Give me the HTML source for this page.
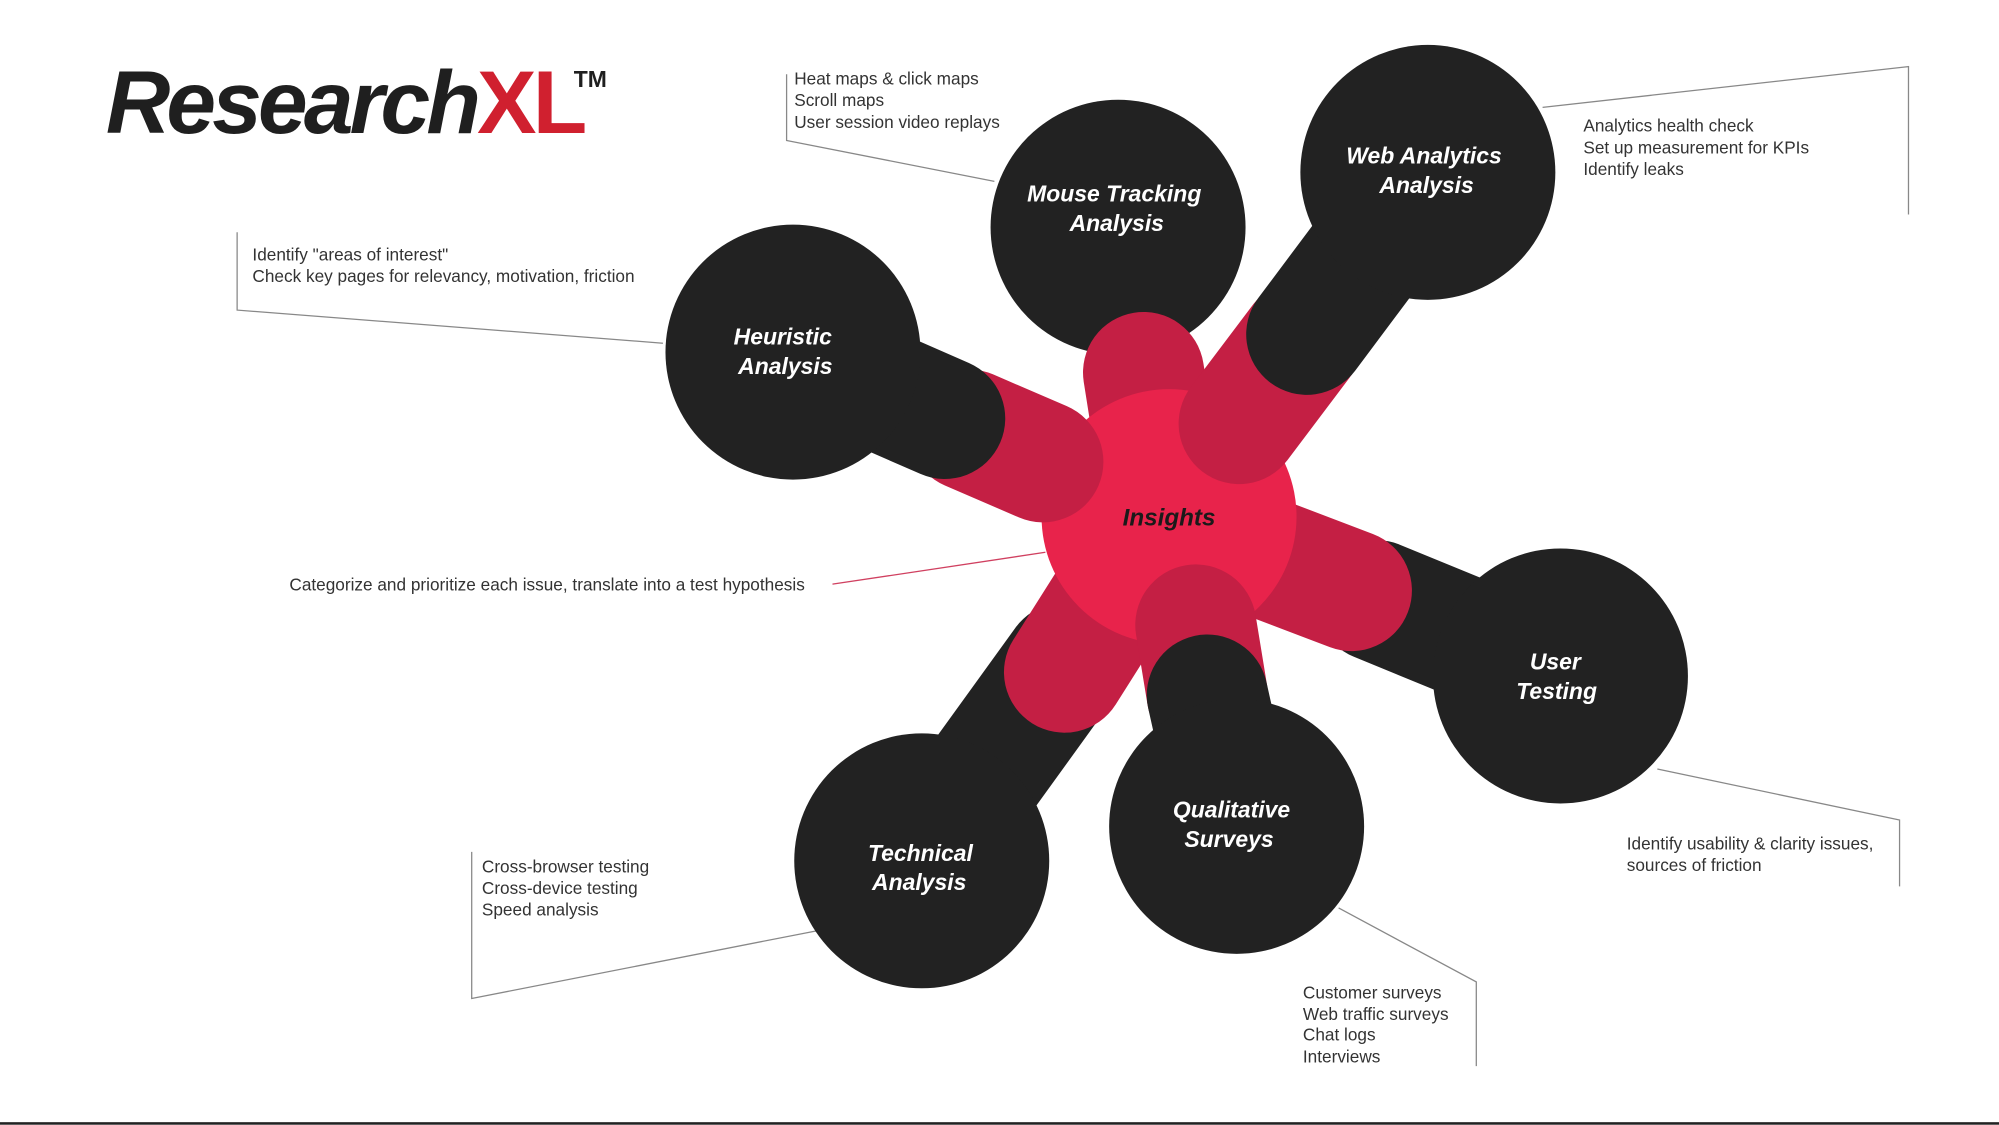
<!DOCTYPE html>
<html><head><meta charset="utf-8"><style>
html,body{margin:0;padding:0;background:#fff;}
svg{display:block;}
.lbl{font-family:"Liberation Sans",sans-serif;font-weight:bold;font-style:italic;font-size:18px;fill:#fff;text-anchor:middle;}
.ann{font-family:"Liberation Sans",sans-serif;font-size:13.5px;fill:#333;}
.ln{stroke:#888;stroke-width:1;fill:none;}
</style></head><body>
<svg width="1999" height="1125" viewBox="0 0 1568 882" xmlns="http://www.w3.org/2000/svg">
<rect width="1568" height="882" fill="#fff"/>
<text x="83" y="104" font-family="Liberation Sans,sans-serif" font-weight="bold" font-style="italic" font-size="70" fill="#1f1f1f" letter-spacing="-3">Research<tspan fill="#d0202f" font-style="normal">XL</tspan></text>
<text x="450" y="68" font-family="Liberation Sans,sans-serif" font-weight="bold" font-size="18" fill="#1f1f1f">TM</text>

<g class="ln">
<polyline points="617,58 617,110 780,142"/>
<polyline points="1210,84 1497,52 1497,168"/>
<polyline points="186,182 186,243 520,269"/>
<polyline points="1300,603 1490,643 1490,695"/>
<polyline points="370,668 370,783 640,730"/>
<polyline points="1050,712 1158,770 1158,836"/>
</g>
<line x1="653" y1="458" x2="820" y2="433" stroke="#d04060" stroke-width="1"/>

<g fill="#222" stroke="#222" stroke-width="95" stroke-linecap="round">
<line x1="1224" y1="530" x2="1080" y2="471"/>
<line x1="723" y1="675" x2="835" y2="520"/>
</g>
<g fill="#222">
<circle cx="877" cy="178" r="100"/>
<circle cx="1224" cy="530" r="100"/>
<circle cx="723" cy="675" r="100"/>
</g>
<g stroke="#c41f44" stroke-width="95" stroke-linecap="round">
<line x1="897" y1="292" x2="903" y2="330"/>
<line x1="960" y1="425" x2="1060" y2="463"/>
<line x1="890" y1="440" x2="835" y2="527"/>
</g>
<circle cx="917" cy="405" r="100" fill="#e8234b"/>
<g stroke="#c41f44" stroke-width="95" stroke-linecap="round">
<line x1="818" y1="362" x2="760" y2="337"/>
<line x1="972" y1="332" x2="1021" y2="267"/>
<line x1="938" y1="490" x2="947" y2="545"/>
</g>
<g fill="#222" stroke="#222" stroke-width="95" stroke-linecap="round">
<line x1="622" y1="276" x2="741" y2="328"/>
<line x1="1120" y1="135" x2="1025" y2="262"/>
<line x1="970" y1="648" x2="947" y2="545"/>
</g>
<g fill="#222">
<circle cx="622" cy="276" r="100"/>
<circle cx="1120" cy="135" r="100"/>
<circle cx="970" cy="648" r="100"/>
</g>

<text class="lbl" x="614" y="270">Heuristic</text><text class="lbl" x="616" y="293">Analysis</text>
<text class="lbl" x="874" y="158">Mouse Tracking</text><text class="lbl" x="876" y="181">Analysis</text>
<text class="lbl" x="1117" y="128">Web Analytics</text><text class="lbl" x="1119" y="151">Analysis</text>
<text class="lbl" x="1220" y="525">User</text><text class="lbl" x="1221" y="548">Testing</text>
<text class="lbl" x="966" y="641">Qualitative</text><text class="lbl" x="964" y="664">Surveys</text>
<text class="lbl" x="722" y="675">Technical</text><text class="lbl" x="721" y="698">Analysis</text>
<text class="lbl" x="917" y="412" style="fill:#1a1a1a;font-size:19px">Insights</text>

<text class="ann" x="623" y="66">Heat maps &amp; click maps</text>
<text class="ann" x="623" y="83">Scroll maps</text>
<text class="ann" x="623" y="100">User session video replays</text>
<text class="ann" x="1242" y="103">Analytics health check</text>
<text class="ann" x="1242" y="120">Set up measurement for KPIs</text>
<text class="ann" x="1242" y="137">Identify leaks</text>
<text class="ann" x="198" y="204">Identify "areas of interest"</text>
<text class="ann" x="198" y="221">Check key pages for relevancy, motivation, friction</text>
<text class="ann" x="227" y="463">Categorize and prioritize each issue, translate into a test hypothesis</text>
<text class="ann" x="1276" y="666">Identify usability &amp; clarity issues,</text>
<text class="ann" x="1276" y="683">sources of friction</text>
<text class="ann" x="378" y="684">Cross-browser testing</text>
<text class="ann" x="378" y="701">Cross-device testing</text>
<text class="ann" x="378" y="718">Speed analysis</text>
<text class="ann" x="1022" y="783">Customer surveys</text>
<text class="ann" x="1022" y="800">Web traffic surveys</text>
<text class="ann" x="1022" y="816">Chat logs</text>
<text class="ann" x="1022" y="833">Interviews</text>
<rect x="0" y="880" width="1568" height="2" fill="#222"/>
</svg>
</body></html>
